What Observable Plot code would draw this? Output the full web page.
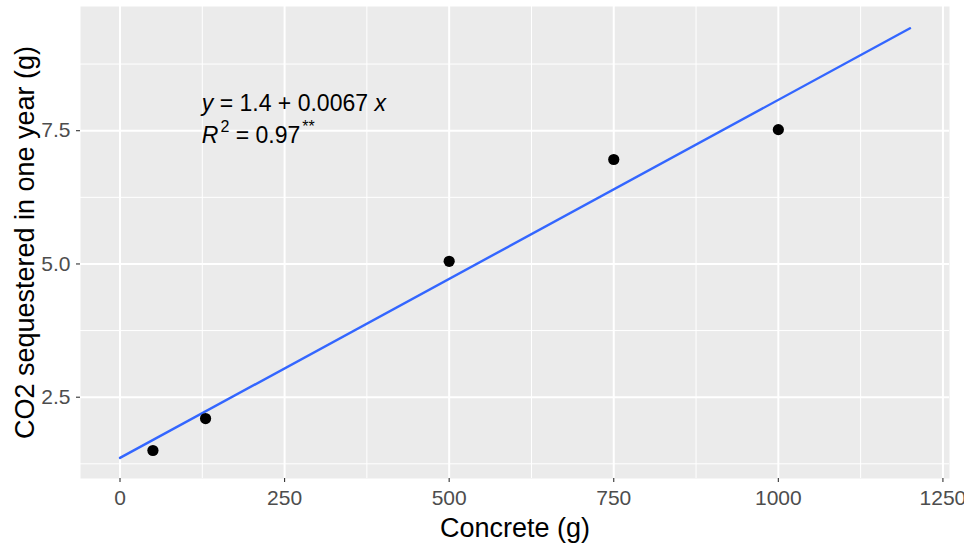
<!DOCTYPE html>
<html><head><meta charset="utf-8">
<script src="https://cdn.jsdelivr.net/npm/d3@7"></script>
<script src="https://cdn.jsdelivr.net/npm/@observablehq/plot@0.6"></script>
<style>
body{margin:0;background:#fff;}
#chart svg{display:block;}
</style>
</head><body><div id="chart"></div>
<script>
// ---- data ----
const concrete = [50, 130, 500, 750, 1000];
const co2 = [1.5, 2.1, 5.05, 6.96, 7.52];
const xTicks = [0, 250, 500, 750, 1000, 1250];
const xTickLabels = ["0", "250", "500", "750", "1000", "1250"];
const xMinor = [125, 375, 625, 875, 1125];
const yTicks = [2.5, 5.0, 7.5];
const yTickLabels = ["2.5", "5.0", "7.5"];
const yMinor = [1.25, 3.75, 6.25, 8.75];
const xDomain = [-60, 1260];
const yDomain = [0.975, 9.83];
const fitRange = [0, 1200];
const xTitle = "Concrete (g)";
const yTitle = "CO2 sequestered in one year (g)";
const annX = 125;
const annY = [7.86, 7.26];
const annLines = [
  [{t: "y", it: true}, {t: " = 1.4 + 0.0067 "}, {t: "x", it: true}],
  [{t: "R", it: true}, {t: "2", sup: true}, {t: " = 0.97"}, {t: "**", sup: true}]
];

// ---- least squares fit ----
const pts = concrete.map((x, i) => ({x, y: co2[i]}));
const mx = d3.mean(concrete), my = d3.mean(co2);
const slope = d3.sum(pts, p => (p.x - mx) * (p.y - my)) / d3.sum(pts, p => (p.x - mx) ** 2);
const intercept = my - slope * mx;
const fit = fitRange.map(x => ({x, y: intercept + slope * x}));

const font = "Liberation Sans, Arial, sans-serif";

const chart = Plot.plot({
  width: 964, height: 545,
  marginLeft: 80, marginRight: 15, marginTop: 6, marginBottom: 67,
  style: {fontFamily: font, background: "#fff", overflow: "visible"},
  x: {domain: xDomain, label: null},
  y: {domain: yDomain, label: null},
  marks: [
    Plot.frame({fill: "#EBEBEB", stroke: null}),
    Plot.ruleX(xMinor, {stroke: "#fff", strokeWidth: 1}),
    Plot.ruleY(yMinor, {stroke: "#fff", strokeWidth: 1}),
    Plot.ruleX(xTicks, {stroke: "#fff", strokeWidth: 2}),
    Plot.ruleY(yTicks, {stroke: "#fff", strokeWidth: 2}),
    Plot.axisX({ticks: xTicks, tickFormat: (d) => xTickLabels[xTicks.indexOf(d)], tickSize: 4, tickPadding: 8,
      stroke: "#333", fill: "#4D4D4D", fontSize: 21, label: null, strokeWidth: 1.1}),
    Plot.axisY({ticks: yTicks, tickFormat: d => yTickLabels[yTicks.indexOf(d)], tickSize: 4, tickPadding: 6,
      stroke: "#333", fill: "#4D4D4D", fontSize: 21, label: null, strokeWidth: 1.1}),
    Plot.line(fit, {x: "x", y: "y", stroke: "#3366FF", strokeWidth: 2.4}),
    Plot.dot(pts, {x: "x", y: "y", r: 5.6, fill: "#000", stroke: null}),
    Plot.text([xTitle], {frameAnchor: "bottom", dy: 58, lineAnchor: "bottom", textAnchor: "middle",
      fontSize: 27, fill: "#000"}),
    Plot.text([yTitle], {frameAnchor: "left", dx: -47, rotate: -90, lineAnchor: "bottom", textAnchor: "middle",
      fontSize: 27, fill: "#000"})
  ]
});

// annotation with rich text, placed through the plot's scales
const sx = chart.scale("x"), sy = chart.scale("y");
const ns = "http://www.w3.org/2000/svg";
const g = document.createElementNS(ns, "g");
g.setAttribute("text-anchor", "start");
annLines.forEach((segs, li) => {
  const t = document.createElementNS(ns, "text");
  t.setAttribute("x", sx.apply(annX));
  t.setAttribute("y", sy.apply(annY[li]));
  t.setAttribute("font-size", 23);
  t.setAttribute("font-family", font);
  t.setAttribute("fill", "#000");
  t.setAttribute("text-anchor", "start");
  t.style.whiteSpace = "pre";
  let prevSup = false;
  segs.forEach(s => {
    const ts = document.createElementNS(ns, "tspan");
    ts.textContent = s.t;
    if (s.it) ts.setAttribute("font-style", "italic");
    if (s.sup) { ts.setAttribute("font-size", 16); ts.setAttribute("dy", -11); ts.setAttribute("dx", 2); }
    else if (prevSup) ts.setAttribute("dy", 11);
    prevSup = !!s.sup;
    t.appendChild(ts);
  });
  g.appendChild(t);
});
chart.appendChild(g);

document.getElementById("chart").appendChild(chart);
</script>
</body></html>
